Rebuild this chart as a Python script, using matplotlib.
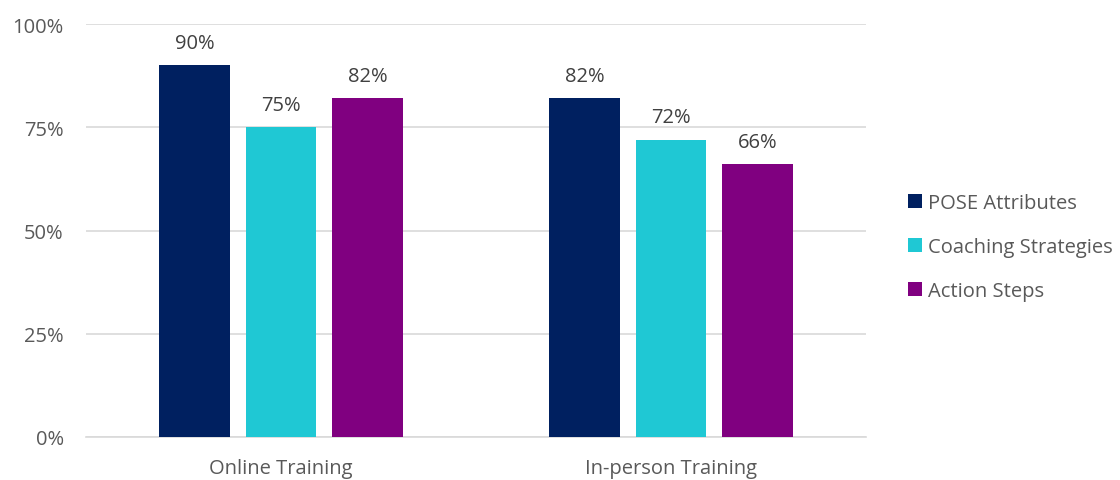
import numpy as np
import matplotlib
matplotlib.use("Agg")
import matplotlib.pyplot as plt

plt.rcParams['font.family'] = ['Open Sans', 'DejaVu Sans']

categories = ["Online Training", "In-person Training"]
series = ["POSE Attributes", "Coaching Strategies", "Action Steps"]
values = [
    [90, 82],
    [75, 72],
    [82, 66],
]
colors = ["#002060", "#1FC8D4", "#800080"]
text_color = "#595959"

fig = plt.figure(figsize=(11.2, 4.81), dpi=100)
ax = fig.add_axes([0.0768, 0.0894, 0.6964, 0.8586])

x = np.arange(len(categories))
width = 0.18
step = 0.222
for i, (name, vals) in enumerate(zip(series, values)):
    pos = x + (i - 1) * step
    bars = ax.bar(pos, vals, width, color=colors[i], label=name, zorder=3)
    for b, v in zip(bars, vals):
        ax.text(b.get_x() + b.get_width() / 2, v + 3.0, f"{v}%",
                ha="center", va="bottom", fontsize=14.5, color="#404040")

ax.set_xlim(-0.5, 1.5)
ax.set_ylim(0, 100)
ax.set_yticks([0, 25, 50, 75, 100])
ax.set_yticklabels([f"{t}%" for t in [0, 25, 50, 75, 100]])
ax.set_xticks(x)
ax.set_xticklabels(categories)
ax.grid(axis="y", color="#D9D9D9", linewidth=1.2, zorder=0)
ax.tick_params(length=0, labelsize=14.5, colors=text_color)
ax.tick_params(axis="y", pad=16)
ax.tick_params(axis="x", pad=15)
for s in ["top", "right", "left"]:
    ax.spines[s].set_visible(False)
ax.spines["bottom"].set_color("#D9D9D9")
ax.spines["bottom"].set_linewidth(1.2)

leg = ax.legend(loc="center left", bbox_to_anchor=(1.03, 0.46), frameon=False,
                fontsize=14.5, labelcolor=text_color, handlelength=0.7,
                handleheight=0.7, handletextpad=0.3, labelspacing=1.2)

fig.savefig("out.png", dpi=100)
